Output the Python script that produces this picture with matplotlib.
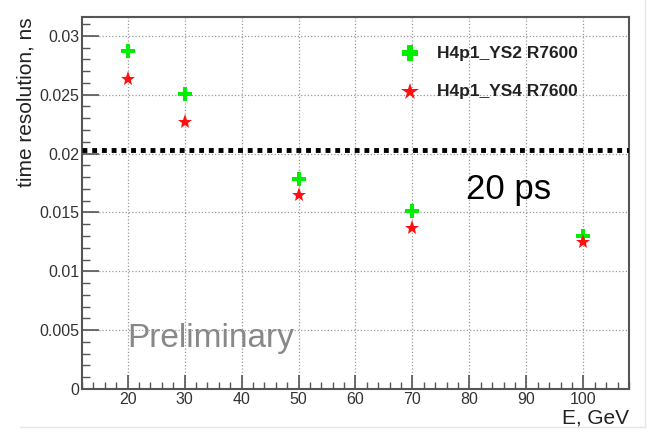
import numpy as np
import matplotlib
matplotlib.use('Agg')
import matplotlib.pyplot as plt
from matplotlib.ticker import MultipleLocator
from matplotlib.lines import Line2D

plt.rcParams['font.family'] = ['Liberation Sans', 'DejaVu Sans']

energy = [20, 30, 50, 70, 100]
res_ys2 = [0.0287, 0.0251, 0.0178, 0.0151, 0.0130]
res_ys4 = [0.0263, 0.0227, 0.0165, 0.0137, 0.0125]
label_ys2 = 'H4p1_YS2 R7600'
label_ys4 = 'H4p1_YS4 R7600'
limit = 0.0203

fig = plt.figure(figsize=(6.53, 4.40), dpi=100)
ax = fig.add_axes([82/653, 1-389/440, (629-82)/653, (389-17)/440])

ax.set_xlim(12, 108)
ax.set_ylim(0, 0.0316)

ax.xaxis.set_major_locator(MultipleLocator(10))
ax.xaxis.set_minor_locator(MultipleLocator(2))
ax.yaxis.set_major_locator(MultipleLocator(0.005))
ax.yaxis.set_minor_locator(MultipleLocator(0.001))
ax.set_yticks([0, 0.005, 0.01, 0.015, 0.02, 0.025, 0.03])
ax.set_yticklabels(['0', '0.005', '0.01', '0.015', '0.02', '0.025', '0.03'])
ax.set_xticks([20, 30, 40, 50, 60, 70, 80, 90, 100])

ax.tick_params(which='major', direction='in', length=12, width=1.2, color='#555555',
               labelsize=11.5, labelcolor='#333333', pad=2)
ax.tick_params(which='minor', direction='in', length=6, width=1.0, color='#555555')
ax.tick_params(axis='x', which='major', length=10)
ax.tick_params(axis='x', which='minor', length=5)
for s in ax.spines.values():
    s.set_color('#555555')
    s.set_linewidth(1.5)

ax.grid(True, which='major', linestyle=':', color='#999999', linewidth=0.9)
ax.set_axisbelow(True)

ax.axhline(limit, color='black', linestyle=(0, (1, 1)), linewidth=3.5, zorder=3)

ax.plot(energy, res_ys2, linestyle='none', marker='P', markersize=10,
        color='#00ee00', markeredgewidth=0, zorder=4)
ax.plot(energy, res_ys4, linestyle='none', marker='*', markersize=11,
        color='#ff1010', markeredgewidth=0, zorder=4)

# legend drawn by hand to sit like the ROOT one
ax.plot([69.5], [0.02854], linestyle='none', marker='P',
        markersize=12, color='#00ee00', markeredgewidth=0)
ax.plot([69.5], [0.02523], linestyle='none', marker='*', markersize=13,
        color='#ff1010', markeredgewidth=0)
ax.text(74.3, 0.02854, label_ys2, fontsize=12.5, fontweight='bold',
        color='#222222', va='center', ha='left')
ax.text(74.3, 0.02523, label_ys4, fontsize=12.5, fontweight='bold',
        color='#222222', va='center', ha='left')

ax.set_ylabel('time resolution, ns', fontsize=15, color='#222222', loc='top', labelpad=3)
ax.set_xlabel('E, GeV', fontsize=15, color='#222222', loc='right', labelpad=1)

ax.text(79.4, 0.0161, '20 ps', fontsize=25, color='black', ha='left', va='baseline')
ax.text(12 + (127-82)/5.698, 0.0036, 'Preliminary', fontsize=24, color='#888888',
        ha='left', va='baseline')

fig.add_artist(Line2D([645/653, 645/653], [1, 1-427/440], color='#e6e6e6', linewidth=1))
fig.add_artist(Line2D([20/653, 645/653], [1-427/440, 1-427/440], color='#e6e6e6', linewidth=1))

fig.savefig('out.png', dpi=100)
